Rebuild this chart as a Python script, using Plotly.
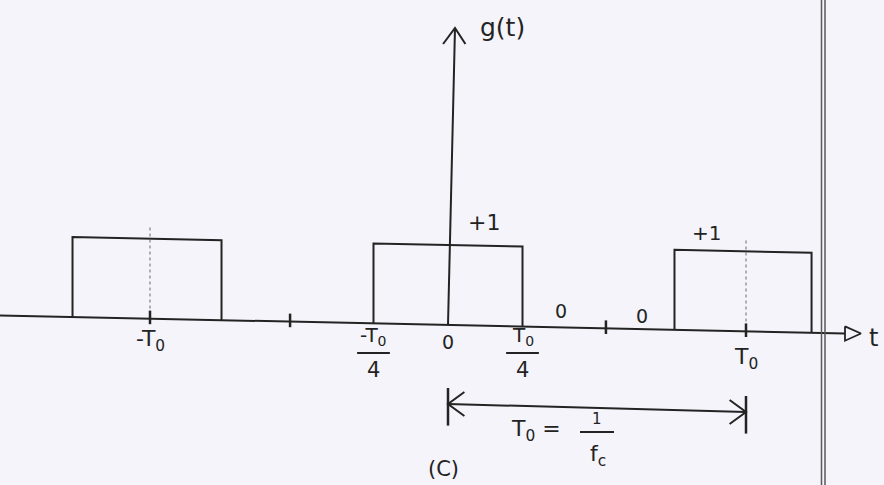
import plotly.graph_objects as go

# Square-wave switching function g(t), time in units of the period T0
pulse_starts = [-1.26, -0.25, 0.76]
pulse_ends = [-0.76, 0.25, 1.22]
pulse_level = [1, 1, 1]
period_ticks = [-1.0, -0.53, 0.53, 1.0]
half_periods = [-1.0, 1.0]          # dotted centre lines of the outer pulses
zero_label_t = [0.38, 0.65]         # "0" markers in the gap
span_start, span_end = 0.0, 1.0     # T0 = 1/fc dimension arrow

W, H = 884, 485
X0_PX, T_PX = 448, 298      # pixel of t=0 and pixels per T0
Y0_PX, G_PX = 325, 80       # pixel of g=0 and pixels per unit of g
TILT = 0.08                 # hand-drawn baseline drops slightly to the right

INK = "#232323"
FONT = "DejaVu Sans"


def gy(t, g):
    """Plot y for a point (t, g) on the slightly tilted hand-drawn baseline."""
    return g - TILT * t


def py(ypx):
    return (Y0_PX - ypx) / G_PX


def tx(xpx):
    return (xpx - X0_PX) / T_PX


fig = go.Figure()

# time axis
t_left, t_right = tx(0), tx(845)
fig.add_trace(go.Scatter(x=[t_left, t_right], y=[gy(t_left, 0), gy(t_right, 0)],
                         mode="lines", line=dict(color=INK, width=2), hoverinfo="skip"))
# open triangular arrow head of the time axis
ah = [tx(845), tx(861), tx(845), tx(845)]
ay0 = gy(t_right, 0)
fig.add_trace(go.Scatter(x=ah, y=[ay0 + 0.09, ay0, ay0 - 0.09, ay0 + 0.09],
                         mode="lines", line=dict(color=INK, width=1.8), hoverinfo="skip"))
fig.add_annotation(x=tx(873), y=ay0 - 0.05, text="t", showarrow=False,
                   font=dict(family=FONT, size=24, color=INK))

# vertical g(t) axis
tip_t, tip_g = tx(455), py(28)
fig.add_trace(go.Scatter(x=[0, tip_t], y=[gy(0, 0), tip_g], mode="lines",
                         line=dict(color=INK, width=2), hoverinfo="skip"))
fig.add_trace(go.Scatter(x=[tip_t - 0.04, tip_t, tip_t + 0.035],
                         y=[tip_g - 0.2, tip_g, tip_g - 0.2], mode="lines",
                         line=dict(color=INK, width=2), hoverinfo="skip"))
fig.add_annotation(x=tx(502), y=py(27), text="g(t)", showarrow=False,
                   font=dict(family=FONT, size=25, color=INK))

# rectangular pulses
for a, b, lv in zip(pulse_starts, pulse_ends, pulse_level):
    xs = [a, a, b, b]
    ys = [gy(a, 0), gy(a, lv), gy(b, lv), gy(b, 0)]
    fig.add_trace(go.Scatter(x=xs, y=ys, mode="lines",
                             line=dict(color=INK, width=2), hoverinfo="skip"))

# dotted centre guides
for c in half_periods:
    fig.add_trace(go.Scatter(x=[c, c], y=[gy(c, 0.05), gy(c, 1.15)], mode="lines",
                             line=dict(color="rgba(90,90,90,0.45)", width=2, dash="dot"),
                             hoverinfo="skip"))

# tick marks
for c in period_ticks:
    fig.add_trace(go.Scatter(x=[c, c], y=[gy(c, -0.07), gy(c, 0.1)], mode="lines",
                             line=dict(color=INK, width=2.5), hoverinfo="skip"))

# level labels
fig.add_annotation(x=tx(484), y=py(222), text="+1", showarrow=False,
                   font=dict(family=FONT, size=22, color=INK))
fig.add_annotation(x=tx(706), y=py(233), text="+1", showarrow=False,
                   font=dict(family=FONT, size=20, color=INK))
for t0, yp in zip(zero_label_t, [311, 316]):
    fig.add_annotation(x=t0, y=py(yp), text="0", showarrow=False,
                       font=dict(family=FONT, size=19, color=INK))

# time labels
lab = dict(family=FONT, size=22, color=INK)
fig.add_annotation(x=-1.0, y=py(340), text="-T<sub>0</sub>", showarrow=False, font=lab)
fig.add_annotation(x=0.0, y=py(342), text="0", showarrow=False,
                   font=dict(family=FONT, size=19, color=INK))
fig.add_annotation(x=1.0, y=py(358), text="T<sub>0</sub>", showarrow=False, font=lab)
for t0, sign in [(-0.25, "-"), (0.25, "")]:
    fig.add_annotation(x=t0, y=py(336), text=f"{sign}T<sub>0</sub>", showarrow=False,
                       font=dict(family=FONT, size=20, color=INK))
    fig.add_trace(go.Scatter(x=[t0 - 0.055, t0 + 0.055], y=[py(353), py(353)],
                             mode="lines", line=dict(color=INK, width=2), hoverinfo="skip"))
    fig.add_annotation(x=t0, y=py(370), text="4", showarrow=False,
                       font=dict(family=FONT, size=21, color=INK))

# T0 = 1/fc dimension arrow
ya, yb = py(404), py(412)
fig.add_trace(go.Scatter(x=[span_start, span_end], y=[ya, yb], mode="lines",
                         line=dict(color=INK, width=2), hoverinfo="skip"))
for t0, yc, d in [(span_start, ya, 1), (span_end, yb, -1)]:
    fig.add_trace(go.Scatter(x=[t0, t0], y=[yc + 0.2, yc - 0.27], mode="lines",
                             line=dict(color=INK, width=2.5), hoverinfo="skip"))
    fig.add_trace(go.Scatter(x=[t0 + d * 0.055, t0, t0 + d * 0.055],
                             y=[yc + 0.15, yc, yc - 0.15], mode="lines",
                             line=dict(color=INK, width=2), hoverinfo="skip"))
fig.add_annotation(x=tx(536), y=py(430), text="T<sub>0</sub> =", showarrow=False, font=lab)
fig.add_annotation(x=tx(597), y=py(419), text="1", showarrow=False,
                   font=dict(family=FONT, size=15, color=INK))
fig.add_trace(go.Scatter(x=[tx(580), tx(614)], y=[py(432), py(432)], mode="lines",
                         line=dict(color=INK, width=2), hoverinfo="skip"))
fig.add_annotation(x=tx(598), y=py(455), text="f<sub>c</sub>", showarrow=False,
                   font=dict(family=FONT, size=22, color=INK))

# figure tag
fig.add_annotation(x=tx(443), y=py(469), text="(C)", showarrow=False,
                   font=dict(family=FONT, size=21, color=INK))

# page edge rule
for xp in (821.5, 825):
    fig.add_shape(type="line", xref="paper", yref="paper", x0=xp / W, x1=xp / W,
                  y0=0, y1=1, line=dict(color="#5a5a5a", width=1.5))

fig.update_layout(
    width=W, height=H,
    margin=dict(l=0, r=0, t=0, b=0),
    paper_bgcolor="#f4f4fa", plot_bgcolor="#f4f4fa",
    showlegend=False,
    xaxis=dict(range=[tx(0), tx(W)], visible=False, fixedrange=True),
    yaxis=dict(range=[py(H), py(0)], visible=False, fixedrange=True),
)

fig.write_html("out.html")
